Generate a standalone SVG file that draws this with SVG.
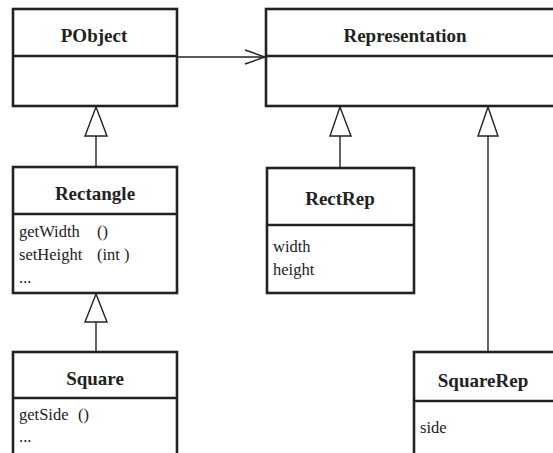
<svg xmlns="http://www.w3.org/2000/svg" width="553" height="453" viewBox="0 0 553 453">
<style>
.box{fill:#fff;stroke:#222;stroke-width:2.6}
.div{stroke:#222;stroke-width:2.4}
.t{font-family:"Liberation Serif","Times New Roman",serif;font-size:19px;font-weight:bold;fill:#222;text-anchor:middle}
.m{font-family:"Liberation Serif","Times New Roman",serif;font-size:16.5px;fill:#222}
.c{fill:none;stroke:#222;stroke-width:1.4}
.tri{fill:#fff;stroke:#222;stroke-width:1.4}
</style>
<rect width="553" height="453" fill="#fff"/>
<g id="connectors">
<line class="c" x1="177" y1="57" x2="265" y2="57"/>
<polyline class="c" points="245,50 265,57 245,64"/>
<line class="c" x1="96" y1="136" x2="96" y2="167"/>
<polygon class="tri" points="96,107 85,136 107,136"/>
<line class="c" x1="96" y1="322" x2="96" y2="352"/>
<polygon class="tri" points="96,294 85,322 107,322"/>
<line class="c" x1="340" y1="136" x2="340" y2="168"/>
<polygon class="tri" points="340,107 330,136 351,136"/>
<line class="c" x1="488" y1="136" x2="488" y2="352"/>
<polygon class="tri" points="488,107 478,136 498,136"/>
</g>
<g id="PObject">
<rect class="box" x="13" y="9" width="164" height="97"/>
<line class="div" x1="13" y1="56" x2="177" y2="56"/>
<text class="t" x="94" y="42">PObject</text>
</g>
<g id="Representation">
<rect class="box" x="266" y="9" width="300" height="97"/>
<line class="div" x1="266" y1="56" x2="553" y2="56"/>
<text class="t" x="405" y="42">Representation</text>
</g>
<g id="Rectangle">
<rect class="box" x="13" y="167" width="164" height="126"/>
<line class="div" x1="13" y1="214" x2="177" y2="214"/>
<text class="t" x="95" y="200">Rectangle</text>
<text class="m" x="19" y="237">getWidth</text>
<text class="m" x="97" y="237">()</text>
<text class="m" x="19" y="260">setHeight</text>
<text class="m" x="97" y="260">(int )</text>
<text class="m" x="19" y="283">...</text>
</g>
<g id="Square">
<rect class="box" x="13" y="352" width="164" height="120"/>
<line class="div" x1="13" y1="398" x2="177" y2="398"/>
<text class="t" x="95" y="385">Square</text>
<text class="m" x="19" y="420">getSide</text>
<text class="m" x="78" y="420">()</text>
<text class="m" x="19" y="442">...</text>
</g>
<g id="RectRep">
<rect class="box" x="267" y="168" width="147" height="125"/>
<line class="div" x1="267" y1="225" x2="414" y2="225"/>
<text class="t" x="340" y="205">RectRep</text>
<text class="m" x="273" y="252">width</text>
<text class="m" x="273" y="275">height</text>
</g>
<g id="SquareRep">
<rect class="box" x="414" y="352" width="160" height="120"/>
<line class="div" x1="414" y1="401" x2="553" y2="401"/>
<text class="t" x="483" y="387">SquareRep</text>
<text class="m" x="420" y="433">side</text>
</g>
</svg>
